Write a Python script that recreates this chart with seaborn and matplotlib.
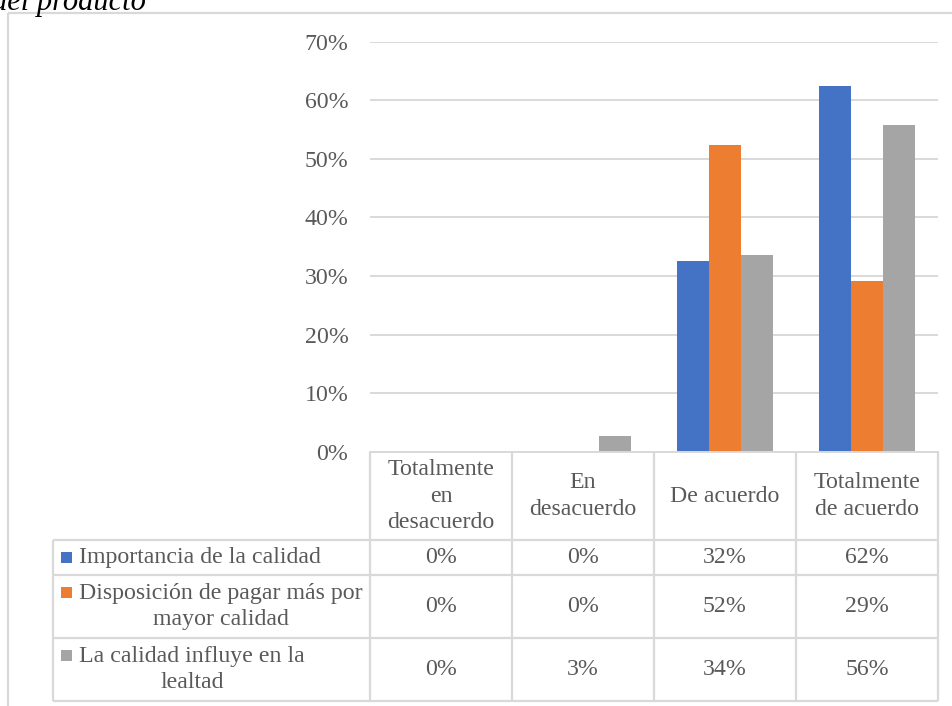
import matplotlib
matplotlib.use("Agg")
import matplotlib.pyplot as plt
import matplotlib.transforms as mtransforms
from matplotlib.lines import Line2D
from matplotlib.patches import Rectangle
from matplotlib.ticker import PercentFormatter
import seaborn as sns
import pandas as pd

# --- data -------------------------------------------------------------
categorias = ["Totalmente\nen\ndesacuerdo", "En\ndesacuerdo", "De acuerdo",
              "Totalmente\nde acuerdo"]
series = ["Importancia de la calidad",
          "Disposición de pagar más por\nmayor calidad",
          "La calidad influye en la\nlealtad"]
importancia = [0.0, 0.0, 0.325, 0.624]
disposicion = [0.0, 0.0, 0.524, 0.292]
lealtad = [0.0, 0.028, 0.336, 0.558]
colores = ["#4472C4", "#ED7D31", "#A5A5A5"]
yticks = [0.0, 0.1, 0.2, 0.3, 0.4, 0.5, 0.6, 0.7]
titulo = "del producto"

valores = [importancia, disposicion, lealtad]
df = pd.DataFrame(
    [(c, s, v) for s, vals in zip(series, valores) for c, v in zip(categorias, vals)],
    columns=["categoria", "serie", "valor"],
)

# --- style ------------------------------------------------------------
sns.set_theme(style="white")
plt.rcParams["font.family"] = ["Liberation Serif", "DejaVu Serif"]
TXT = "#595959"
GRID = "#d9d9d9"
FS = 17.2
LS = 1.35

W, H = 953, 706
fig = plt.figure(figsize=(W / 100, H / 100), dpi=100)
fig.patch.set_facecolor("white")


def fx(px):
    return px / W


def fy(py):
    return 1 - py / H


ax = fig.add_axes([fx(370), fy(452), fx(938) - fx(370), fy(41.5) - fy(452)])

sns.barplot(data=df, x="categoria", y="valor", hue="serie", order=categorias,
            hue_order=series, palette=colores, saturation=1, width=0.67,
            legend=False, ax=ax, linewidth=0)

ax.set_xlim(-0.5, 3.5)
ax.set_ylim(0, 0.7)
ax.set_yticks(yticks)
ax.yaxis.set_major_formatter(PercentFormatter(1.0, decimals=0))
ax.set_xticks([])
ax.set_xlabel("")
ax.set_ylabel("")
ax.tick_params(axis="y", length=0, pad=15.5, labelsize=FS, labelcolor=TXT)
ax.yaxis.grid(True, color=GRID, lw=1.4)
ax.set_axisbelow(True)
for side in ["top", "right", "left"]:
    ax.spines[side].set_visible(False)
ax.spines["bottom"].set_color(GRID)
ax.spines["bottom"].set_linewidth(1.4)

# --- data table under the plot ------------------------------------------
colx = mtransforms.blended_transform_factory(ax.transData, fig.transFigure)
x_right = fig.transFigure.inverted().transform(ax.transData.transform((3.5, 0)))[0]

row_lines = [540, 575, 638, 701]
row_centers = [557.5, 606.5, 669.5]
header_center = 496
label_left = 53

line_kw = dict(color=GRID, lw=1.6, solid_capstyle="butt")
for y in row_lines:
    fig.add_artist(Line2D([fx(label_left), x_right], [fy(y), fy(y)],
                          transform=fig.transFigure, **line_kw))
for xe in [-0.5, 0.5, 1.5, 2.5, 3.5]:
    fig.add_artist(Line2D([xe, xe], [fy(452), fy(701)], transform=colx, **line_kw))
fig.add_artist(Line2D([fx(label_left), fx(label_left)], [fy(540), fy(701)],
                      transform=fig.transFigure, **line_kw))

for i, cat in enumerate(categorias):
    fig.text(i, fy(header_center), cat, transform=colx, ha="center", va="center",
             multialignment="center", fontsize=FS, color=TXT, linespacing=LS)

for r, (vals, yc) in enumerate(zip(valores, row_centers)):
    for i, v in enumerate(vals):
        fig.text(i, fy(yc), f"{v:.0%}", transform=colx, ha="center", va="center",
                 fontsize=FS, color=TXT)

for s, col, yc in zip(series, colores, row_centers):
    nlines = s.count("\n") + 1
    first_line = yc - (nlines - 1) * 14
    fig.add_artist(Rectangle((fx(61), fy(first_line + 5.5)), fx(11), 11 / H,
                             transform=fig.transFigure, facecolor=col,
                             edgecolor="none"))
    fig.text(fx(79), fy(yc), s, ha="left", va="center", multialignment="center",
             fontsize=FS, color=TXT, linespacing=LS)

# --- chart frame and caption -------------------------------------------
frame_kw = dict(color=GRID, lw=1.6, solid_capstyle="butt")
fig.add_artist(Line2D([fx(8), 1.0], [fy(13), fy(13)], transform=fig.transFigure, **frame_kw))
fig.add_artist(Line2D([fx(8), fx(8)], [fy(13), 0.0], transform=fig.transFigure, **frame_kw))

fig.text(fx(146), fy(10), titulo, ha="right", va="baseline", style="italic",
         fontsize=22, color="black")

fig.savefig("out.png", dpi=100, facecolor="white")
